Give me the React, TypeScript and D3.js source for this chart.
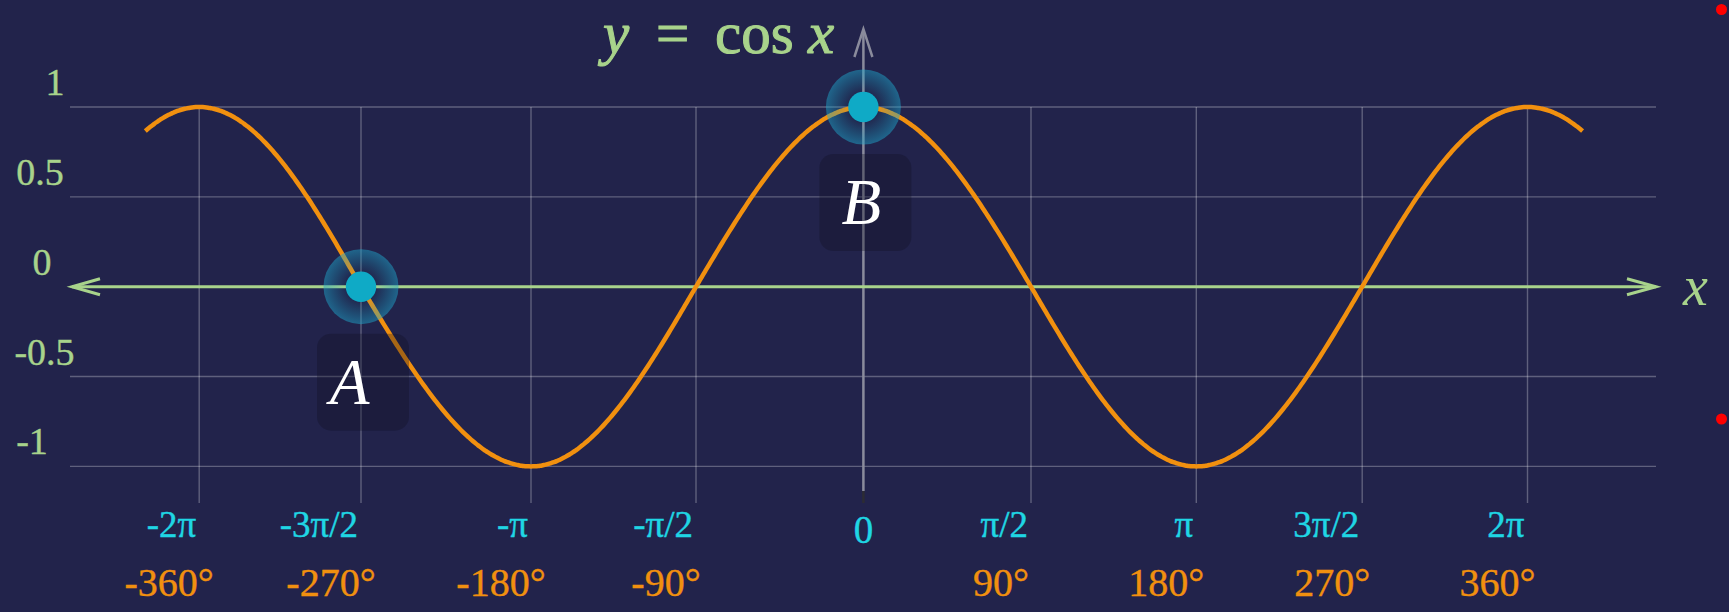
import React from "react";
import * as d3 from "d3";

// Tick positions (degrees) and their labels
const tickDegrees = [-360, -270, -180, -90, 0, 90, 180, 270, 360];
const radianLabels = ["-2π", "-3π/2", "-π", "-π/2", "0", "π/2", "π", "3π/2", "2π"];
const degreeLabels = ["-360°", "-270°", "-180°", "-90°", "", "90°", "180°", "270°", "360°"];

const yTicks = [1, 0.5, 0, -0.5, -1];
const yTickLabels = ["1", "0.5", "0", "-0.5", "-1"];

// Plotted range of the curve, in degrees
const curveDomain = [-390, 390];

// Highlighted points on the curve
const markedNames = ["A", "B"];
const markedDegrees = [-270, 0];

const W = 1729;
const H = 612;
const FONT = "'Liberation Serif', 'Times New Roman', serif";

const BG = "#22234b";
const GREEN = "#a8d38b";
const ORANGE = "#f1900f";
const CYAN = "#1fd6e4";
const CORE = "#0faac6";

// Pixel positions of the tick gridlines along x
const X_RANGE = [199.2, 361, 531, 696, 863.4, 1031, 1196.3, 1362.2, 1527.5];
// Horizontal centres of the y tick labels
const Y_LABEL_CX = [55, 40, 42, 44.5, 32];
// Horizontal nudge of each point's letter
const NAME_DX = [-11.5, -2];

export default function App() {
  const x = d3.scaleLinear().domain(tickDegrees).range(X_RANGE);
  const y = d3.scaleLinear().domain([-1, 1]).range([466.4, 107]);

  const rad = (deg: number) => (deg * Math.PI) / 180;
  const samples = d3.range(curveDomain[0], curveDomain[1] + 0.001, 1);
  const line = d3
    .line<number>()
    .x((d) => x(d))
    .y((d) => y(Math.cos(rad(d))))
    .curve(d3.curveMonotoneX);

  const gridLeft = 70;
  const gridRight = 1656;
  const gridTop = y(1);
  const gridBottom = 503;
  const x0 = x(0);
  const yAxisY0 = y(0);

  return (
    <svg
      width={W}
      height={H}
      viewBox={`0 0 ${W} ${H}`}
      style={{ position: "absolute", left: 0, top: 0, display: "block" }}
    >
      <defs>
        <radialGradient id="glow" cx="50%" cy="50%" r="50%">
          <stop offset="0%" stopColor="#11a6c8" stopOpacity={0.0} />
          <stop offset="40%" stopColor="#11a6c8" stopOpacity={0.05} />
          <stop offset="100%" stopColor="#1ea7cc" stopOpacity={0.5} />
        </radialGradient>
      </defs>
      <rect x={0} y={0} width={W} height={H} fill={BG} />

      {/* grid */}
      {yTicks.map((t) => (
        <line
          key={"hg" + t}
          x1={gridLeft}
          x2={gridRight}
          y1={y(t)}
          y2={y(t)}
          stroke="#ffffff"
          strokeOpacity={0.28}
          strokeWidth={1.4}
        />
      ))}
      {tickDegrees
        .filter((d) => d !== 0)
        .map((d) => (
          <line
            key={"vg" + d}
            x1={x(d)}
            x2={x(d)}
            y1={gridTop}
            y2={gridBottom}
            stroke="#ffffff"
            strokeOpacity={0.28}
            strokeWidth={1.4}
          />
        ))}

      {/* y axis */}
      <line x1={x0} x2={x0} y1={30} y2={491} stroke="#8a8b9c" strokeWidth={2.5} />
      <line x1={x0} x2={x0} y1={491} y2={503} stroke="#2c2c34" strokeWidth={2.5} />
      <path
        d={`M${x0 - 9},57 L${x0},29 L${x0 + 9},57`}
        fill="none"
        stroke="#8a8b9c"
        strokeWidth={2.5}
      />

      {/* x axis with arrowheads at both ends */}
      <line x1={72} x2={1656} y1={yAxisY0} y2={yAxisY0} stroke={GREEN} strokeWidth={3} />
      <path
        d={`M100,${yAxisY0 - 8} L72,${yAxisY0} L100,${yAxisY0 + 8}`}
        fill="none"
        stroke={GREEN}
        strokeWidth={3}
      />
      <path
        d={`M1627,${yAxisY0 - 8} L1656,${yAxisY0} L1627,${yAxisY0 + 8}`}
        fill="none"
        stroke={GREEN}
        strokeWidth={3}
      />

      {/* cosine curve */}
      <path d={line(samples) || ""} fill="none" stroke={ORANGE} strokeWidth={4.5} strokeLinejoin="round" />

      {/* marked points */}
      {markedDegrees.map((d, i) => {
        const cx = x(d);
        const cy = y(Math.cos(rad(d)));
        return (
          <g key={"pt" + i}>
            <circle cx={cx} cy={cy} r={37.5} fill="url(#glow)" />
            <circle cx={cx} cy={cy} r={15.2} fill={CORE} />
            <rect
              x={cx - 44}
              y={cy + 47}
              width={92}
              height={97}
              rx={14}
              fill="#0e0f22"
              fillOpacity={0.32}
            />
            <text
              x={cx + NAME_DX[i]}
              y={cy + 117}
              fontFamily={FONT}
              fontStyle="italic"
              fontSize={65}
              fill="#ffffff"
              textAnchor="middle"
            >
              {markedNames[i]}
            </text>
          </g>
        );
      })}

      {/* y tick labels */}
      {yTicks.map((t, i) => (
        <text
          key={"yl" + t}
          x={Y_LABEL_CX[i]}
          y={y(t) - 12}
          fontFamily={FONT}
          fontSize={38}
          fill={GREEN}
          stroke={GREEN}
          strokeWidth={0.4}
          textAnchor="middle"
        >
          {yTickLabels[i]}
        </text>
      ))}

      {/* radian labels */}
      {tickDegrees.map((d, i) =>
        d === 0 ? (
          <text
            key={"rl" + d}
            x={x(d)}
            y={542.5}
            fontFamily={FONT}
            fontSize={39}
            fill={CYAN}
            stroke={CYAN}
            strokeWidth={0.4}
            textAnchor="middle"
          >
            {radianLabels[i]}
          </text>
        ) : (
          <text
            key={"rl" + d}
            x={x(d) - 3}
            y={536.5}
            fontFamily={FONT}
            fontSize={37}
            fill={CYAN}
            stroke={CYAN}
            strokeWidth={0.4}
            textAnchor="end"
          >
            {radianLabels[i]}
          </text>
        )
      )}

      {/* degree labels */}
      {tickDegrees.map((d, i) =>
        degreeLabels[i] ? (
          <text
            key={"dl" + d}
            x={x(d) - 30}
            y={596}
            fontFamily={FONT}
            fontSize={40}
            fill={ORANGE}
            stroke={ORANGE}
            strokeWidth={0.4}
            textAnchor="middle"
          >
            {degreeLabels[i]}
          </text>
        ) : null
      )}

      {/* title */}
      <text y={53} fontFamily={FONT} fontSize={59} fill={GREEN} stroke={GREEN} strokeWidth={1}>
        <tspan x={603} fontStyle="italic">y</tspan>
        <tspan x={656}>=</tspan>
        <tspan x={715}>cos</tspan>
        <tspan x={808} fontStyle="italic">x</tspan>
      </text>

      {/* x axis name */}
      <text x={1683} y={305} fontFamily={FONT} fontSize={56} fontStyle="italic" fill={GREEN}>
        x
      </text>

      {/* markers at the right edge */}
      <circle cx={1721.5} cy={9.5} r={5.5} fill="#ff0000" />
      <circle cx={1721.5} cy={419} r={5.5} fill="#ff0000" />
    </svg>
  );
}
